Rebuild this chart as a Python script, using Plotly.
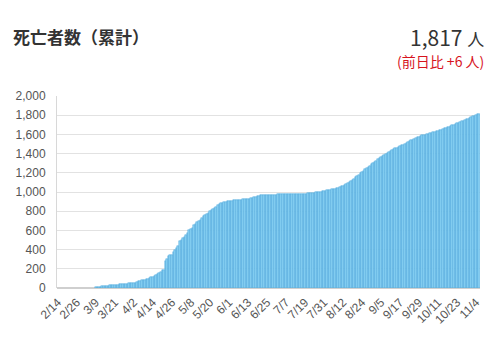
import pandas as pd
import plotly.graph_objects as go

# Cumulative deaths, one value per day starting 2020-02-14
START_DATE = "2020-02-14"
DEATHS = [
    # 2/14 - 3/8
    0, 0, 0, 0, 0, 0, 0, 0, 0, 0, 0, 0, 0, 0, 0, 0, 0, 0, 0, 0, 0, 0, 0, 0,
    # 3/9 - 4/1
    10, 12, 13, 15, 16, 19, 21, 22, 24, 28, 29, 31, 33, 35, 36, 38, 40, 42, 43, 45, 46, 47, 49, 51,
    # 4/2 - 4/21
    53, 56, 62, 70, 78, 80, 84, 88, 92, 98, 104, 110, 116, 124, 136, 148, 158, 170, 184, 192,
    # 4/22 - 5/31
    277, 300, 331, 340, 348, 372, 400, 415, 440, 485, 500, 516, 536, 551, 572, 600,
    613, 624, 653, 670, 687, 697, 711, 729, 749, 763, 771, 784, 797, 808, 820, 832,
    849, 864, 878, 884, 889, 894, 898, 902,
    # 6/1 - 6/30
    906, 909, 911, 912, 914, 916, 917, 919, 920, 922, 924, 926, 928, 932, 936, 941,
    946, 953, 958, 962, 965, 968, 970, 971, 971, 972, 972, 973, 973, 974,
    # 7/1 - 7/31
    974, 975, 975, 976, 976, 976, 977, 977, 977, 978, 978, 978, 978, 979, 979, 980,
    981, 982, 983, 984, 985, 986, 988, 990, 992, 995, 998, 1001, 1004, 1008, 1012,
    # 8/1 - 8/31
    1015, 1018, 1022, 1025, 1028, 1031, 1036, 1041, 1046, 1052, 1059, 1066, 1074,
    1082, 1091, 1100, 1112, 1125, 1139, 1153, 1167, 1181, 1195, 1209, 1223, 1237,
    1251, 1264, 1276, 1289, 1302,
    # 9/1 - 9/30
    1315, 1328, 1340, 1352, 1363, 1374, 1385, 1396, 1406, 1416, 1426, 1436, 1445,
    1454, 1462, 1470, 1478, 1486, 1494, 1502, 1512, 1521, 1530, 1538, 1546, 1554,
    1562, 1569, 1576, 1583,
    # 10/1 - 10/31
    1589, 1594, 1598, 1602, 1606, 1611, 1616, 1621, 1626, 1632, 1638, 1644, 1650,
    1656, 1662, 1668, 1674, 1680, 1686, 1693, 1700, 1707, 1714, 1721, 1728, 1735,
    1742, 1749, 1756, 1763, 1771,
    # 11/1 - 11/6
    1779, 1787, 1795, 1803, 1811, 1817,
]

TICK_LABELS = [
    "2/14", "2/26", "3/9", "3/21", "4/2", "4/14", "4/26", "5/8", "5/20", "6/1",
    "6/13", "6/25", "7/7", "7/19", "7/31", "8/12", "8/24", "9/5", "9/17", "9/29",
    "10/11", "10/23", "11/4",
]
Y_TICKS = [0, 200, 400, 600, 800, 1000, 1200, 1400, 1600, 1800, 2000]

TITLE = "死亡者数（累計）"
TOTAL_TEXT = "1,817"
DIFF_TEXT = "(前日比 +6 人)"

dates = pd.date_range(START_DATE, periods=len(DEATHS), freq="D")
labels = [f"{d.month}/{d.day}" for d in dates]

JP_FONT = "Noto Sans CJK JP"
AXIS_FONT = "Liberation Sans, Arial, sans-serif"

# no outline on empty days so the baseline stays clean
outline_widths = [0.5 if v > 0 else 0 for v in DEATHS]

fig = go.Figure(
    go.Bar(
        x=labels,
        y=DEATHS,
        marker=dict(
            color="#8ad3f4",
            line=dict(color="#4aa5d8", width=outline_widths),
        ),
        hoverinfo="x+y",
    )
)

W, H = 499, 339
ML, MR, MT, MB = 57, 19, 96, 51
pw, ph = W - ML - MR, H - MT - MB


def px(x):
    return (x - ML) / pw


def py(y):
    return (H - MB - y) / ph


fig.update_layout(
    width=W,
    height=H,
    margin=dict(l=ML, r=MR, t=MT, b=MB, pad=0),
    paper_bgcolor="white",
    plot_bgcolor="white",
    bargap=0,
    showlegend=False,
    xaxis=dict(
        type="category",
        tickmode="array",
        tickvals=TICK_LABELS,
        ticktext=TICK_LABELS,
        tickangle=-45,
        tickfont=dict(family=AXIS_FONT, size=12, color="#555"),
        showgrid=False,
        showline=False,
        ticks="",
        zeroline=False,
        ticklabelstandoff=4,
    ),
    yaxis=dict(
        range=[0, 2000],
        tickmode="array",
        tickvals=Y_TICKS,
        tickformat=",d",
        tickfont=dict(family=AXIS_FONT, size=12, color="#555"),
        gridcolor="#e2e2e2",
        gridwidth=1,
        showline=True,
        linecolor="#d8d8d8",
        linewidth=1,
        zeroline=True,
        zerolinecolor="#cfcfcf",
        ticks="",
        ticklabelstandoff=8,
    ),
    annotations=[
        dict(
            text=f"<b>{TITLE}</b>",
            xref="paper", yref="paper",
            x=px(11), y=py(36),
            xanchor="left", yanchor="middle",
            showarrow=False,
            font=dict(family=JP_FONT, size=17, color="#333"),
        ),
        dict(
            text=f"{TOTAL_TEXT} <span style='font-size:17px'>人</span>",
            xref="paper", yref="paper",
            x=px(486), y=py(37),
            xanchor="right", yanchor="middle",
            showarrow=False,
            font=dict(family=JP_FONT, size=21, color="#333"),
        ),
        dict(
            text=DIFF_TEXT,
            xref="paper", yref="paper",
            x=px(486), y=py(61),
            xanchor="right", yanchor="middle",
            showarrow=False,
            font=dict(family=JP_FONT, size=14, color="#d7141e"),
        ),
    ],
)

fig.write_html("out.html")
